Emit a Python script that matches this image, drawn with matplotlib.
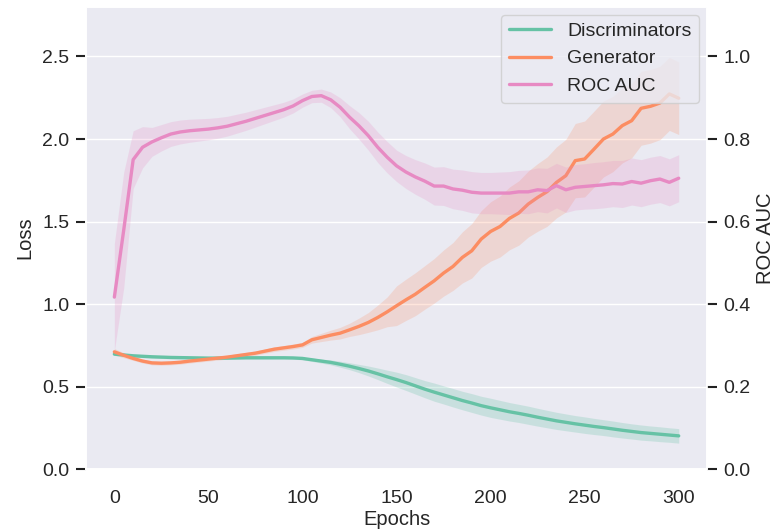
import numpy as np
import matplotlib
matplotlib.use("Agg")
import matplotlib.pyplot as plt
import seaborn as sns

# epochs sampled every 5
epochs = np.arange(0, 301, 5)

disc = [0.697, 0.692, 0.687, 0.684, 0.681, 0.679, 0.677, 0.676, 0.675, 0.674,
        0.673, 0.673, 0.673, 0.674, 0.675, 0.675, 0.675, 0.675, 0.675, 0.674,
        0.671, 0.663, 0.655, 0.647, 0.636, 0.624, 0.610, 0.595, 0.578, 0.560,
        0.543, 0.525, 0.505, 0.485, 0.467, 0.450, 0.433, 0.416, 0.401, 0.385,
        0.372, 0.360, 0.348, 0.338, 0.327, 0.315, 0.304, 0.293, 0.284, 0.275,
        0.267, 0.259, 0.252, 0.244, 0.236, 0.229, 0.222, 0.217, 0.212, 0.207,
        0.202]
disc_sd = [0.008, 0.008, 0.008, 0.008, 0.008, 0.008, 0.008, 0.008, 0.008, 0.008,
           0.008, 0.008, 0.008, 0.008, 0.008, 0.008, 0.008, 0.008, 0.008, 0.008,
           0.008, 0.010, 0.012, 0.015, 0.018, 0.021, 0.025, 0.030, 0.035, 0.040,
           0.045, 0.048, 0.050, 0.052, 0.055, 0.055, 0.056, 0.056, 0.057, 0.057,
           0.058, 0.057, 0.056, 0.055, 0.055, 0.054, 0.053, 0.052, 0.051, 0.050,
           0.050, 0.049, 0.048, 0.048, 0.047, 0.046, 0.046, 0.045, 0.045, 0.044,
           0.044]

gen = [0.711, 0.690, 0.671, 0.655, 0.644, 0.642, 0.644, 0.648, 0.655, 0.661,
       0.667, 0.673, 0.679, 0.687, 0.695, 0.703, 0.715, 0.727, 0.735, 0.743,
       0.753, 0.784, 0.798, 0.812, 0.824, 0.844, 0.865, 0.889, 0.919, 0.953,
       0.990, 1.026, 1.060, 1.101, 1.141, 1.188, 1.228, 1.283, 1.323, 1.394,
       1.440, 1.470, 1.519, 1.552, 1.606, 1.646, 1.681, 1.737, 1.778, 1.869,
       1.879, 1.939, 2.000, 2.030, 2.081, 2.111, 2.186, 2.198, 2.218, 2.273,
       2.247]
gen_sd = [0.020, 0.015, 0.012, 0.012, 0.012, 0.012, 0.012, 0.012, 0.012, 0.012,
          0.012, 0.012, 0.012, 0.012, 0.013, 0.013, 0.013, 0.014, 0.014, 0.015,
          0.015, 0.020, 0.025, 0.030, 0.035, 0.040, 0.050, 0.060, 0.075, 0.090,
          0.120, 0.125, 0.130, 0.132, 0.135, 0.140, 0.145, 0.155, 0.165, 0.172,
          0.180, 0.185, 0.190, 0.195, 0.200, 0.205, 0.210, 0.215, 0.220, 0.225,
          0.230, 0.230, 0.230, 0.228, 0.226, 0.225, 0.224, 0.223, 0.222, 0.221,
          0.220]

roc = [0.417, 0.580, 0.750, 0.780, 0.793, 0.803, 0.812, 0.817, 0.820, 0.822,
       0.824, 0.827, 0.831, 0.837, 0.843, 0.850, 0.857, 0.864, 0.871, 0.880,
       0.893, 0.903, 0.905, 0.895, 0.877, 0.853, 0.832, 0.808, 0.780, 0.756,
       0.735, 0.720, 0.708, 0.698, 0.686, 0.686, 0.679, 0.676, 0.671, 0.669,
       0.669, 0.669, 0.669, 0.672, 0.672, 0.677, 0.675, 0.687, 0.677, 0.683,
       0.685, 0.687, 0.689, 0.692, 0.691, 0.697, 0.693, 0.699, 0.703, 0.695,
       0.705]
roc_sd = [0.130, 0.140, 0.070, 0.050, 0.035, 0.032, 0.030, 0.029, 0.028, 0.027,
          0.026, 0.025, 0.024, 0.023, 0.022, 0.021, 0.020, 0.019, 0.018, 0.017,
          0.016, 0.015, 0.016, 0.019, 0.023, 0.028, 0.032, 0.035, 0.037, 0.038,
          0.038, 0.040, 0.042, 0.044, 0.046, 0.047, 0.048, 0.049, 0.050, 0.050,
          0.050, 0.051, 0.052, 0.052, 0.053, 0.053, 0.054, 0.054, 0.055, 0.055,
          0.055, 0.056, 0.056, 0.056, 0.057, 0.057, 0.057, 0.057, 0.057, 0.057,
          0.057]

sns.set_theme(style="darkgrid")
plt.rcParams['font.family'] = ['Liberation Sans', 'DejaVu Sans']
colors = sns.color_palette("Set2")
c_disc, c_gen, c_roc = colors[0], colors[1], colors[3]

fig, ax = plt.subplots(figsize=(7.76, 5.32), dpi=100)
fig.subplots_adjust(left=0.111, right=0.911, top=0.987, bottom=0.118)
ax2 = ax.twinx()

d = np.array(disc); ds = np.array(disc_sd)
g = np.array(gen); gs = np.array(gen_sd)
r = np.array(roc); rs = np.array(roc_sd)

ax.fill_between(epochs, d - ds, d + ds, color=c_disc, alpha=0.25, lw=0)
l1, = ax.plot(epochs, d, color=c_disc, lw=2.4, label='Discriminators')
ax.fill_between(epochs, g - gs, g + gs, color=c_gen, alpha=0.22, lw=0)
l2, = ax.plot(epochs, g, color=c_gen, lw=2.4, label='Generator')
ax2.fill_between(epochs, r - rs, r + rs, color=c_roc, alpha=0.22, lw=0)
l3, = ax2.plot(epochs, r, color=c_roc, lw=2.4, label='ROC AUC')

ax.set_xlim(-15, 315)
ax.set_ylim(0, 2.8)
ax2.set_ylim(0, 1.12)
ax.set_yticks([0.0, 0.5, 1.0, 1.5, 2.0, 2.5])
ax2.set_yticks([0.0, 0.2, 0.4, 0.6, 0.8, 1.0])
ax.grid(False, axis='x')
ax2.grid(False)

ax.tick_params(axis='y', left=True, length=7, width=1.5, color='#222222',
               labelsize=14, pad=5)
ax.tick_params(axis='x', bottom=False, labelsize=14, pad=9)
ax2.tick_params(axis='y', right=True, length=7, width=1.5, color='#222222',
                labelsize=14, pad=5)

ax.set_xlabel('Epochs', fontsize=14.5, labelpad=2)
ax.set_ylabel('Loss', fontsize=14.5, labelpad=6)
ax2.set_ylabel('ROC AUC', fontsize=14.5, labelpad=4)

ax2.legend(handles=[l1, l2, l3], loc='upper right', fontsize=14,
           handlelength=2.2, borderaxespad=0.4)

fig.savefig('out.png', dpi=100)
